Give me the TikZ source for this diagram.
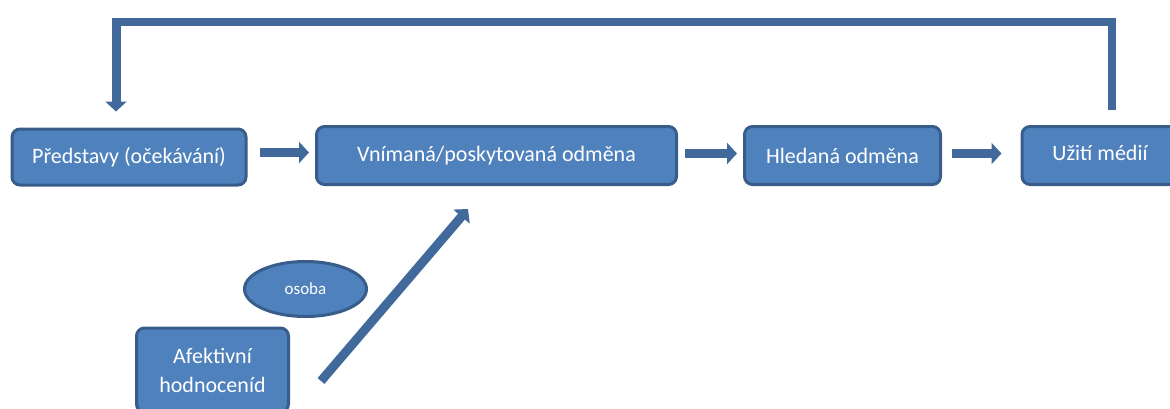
\documentclass[tikz,border=0pt]{standalone}
\usepackage{fontspec}
\setmainfont{Carlito}
\usetikzlibrary{arrows.meta,shapes.geometric}
\definecolor{boxfill}{HTML}{4F81BD}
\definecolor{boxline}{HTML}{385D8A}
\definecolor{arrowcol}{HTML}{41699C}
\tikzset{
  box/.style={draw=boxline, fill=boxfill, line width=3pt, rounded corners=8pt,
    text=white, font=\fontsize{22}{29}\selectfont, inner sep=0pt, align=center},
  oval/.style={ellipse, draw=boxline, fill=boxfill, line width=3pt,
    text=white, font=\fontsize{17}{20}\selectfont, inner sep=0pt},
  blockarrow/.style={draw=arrowcol, line width=9pt,
    -{Triangle[length=10pt,width=21pt]}},
  feedline/.style={draw=arrowcol, line width=8.5pt, line join=miter}
}
\begin{document}
\begin{tikzpicture}[x=1pt,y=-1pt]
  \useasboundingbox (0,0) rectangle (1170,408);
  \clip (0,0) rectangle (1170,408);
  % main chain of boxes
  \node[box, minimum width=234pt, minimum height=56pt] (p1) at (129,157) {Představy (očekávání)};
  \node[box, minimum width=360pt, minimum height=58pt] (p2) at (496.5,155.5) {\raisebox{4pt}{Vnímaná/poskytovaná odměna}};
  \node[box, minimum width=196pt, minimum height=58pt] (p3) at (842.5,155.5) {Hledaná odměna};
  \node[box, minimum width=156pt, minimum height=58pt] (p4) at (1100,155.5) {\raisebox{5pt}{Užití médií}};
  % lower elements
  \node[box, minimum width=152pt, minimum height=84pt] (af) at (212.5,370) {Afektivní\\hodnoceníd};
  \node[oval, minimum width=122pt, minimum height=55pt] (os) at (305.5,289) {osoba};
  % arrows between boxes
  \draw[blockarrow] ([xshift=12pt,yshift=4.5pt]p1.east) -- ([xshift=-6pt,yshift=3pt]p2.west);
  \draw[blockarrow] ([xshift=7pt,yshift=2pt]p2.east) -- ([xshift=-6pt,yshift=2pt]p3.west);
  \draw[blockarrow] ([xshift=10pt,yshift=2pt]p3.east) -- ([xshift=-19pt,yshift=2pt]p4.west);
  % diagonal arrow from the lower box
  \coordinate (dtail) at (321,381);
  \coordinate (dhead) at (468,209);
  \draw[blockarrow] (dtail) -- (dhead);
  % feedback loop over the top
  \coordinate (fr) at (1112,22);
  \coordinate (fl) at (116,22);
  \draw[feedline] ([yshift=15pt]p4.north -| fr) -- (fr) -- (fl);
  \draw[blockarrow] ([yshift=4.5pt]fl) -- ([yshift=16pt]p1.north -| fl);
\end{tikzpicture}
\end{document}
